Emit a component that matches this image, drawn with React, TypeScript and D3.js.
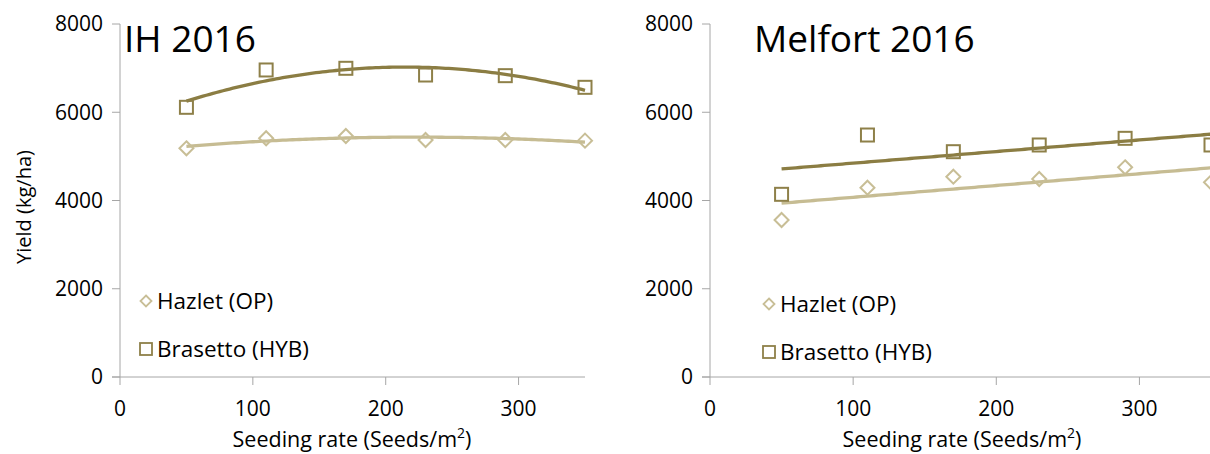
import React from 'react';
import * as d3 from 'd3';

// seeding rates (seeds/m2)
const rates = [50, 110, 170, 230, 290, 350];

// yields (kg/ha)
const ihHazlet = [5183, 5410, 5462, 5371, 5371, 5356];
const ihBrasetto = [6112, 6958, 6996, 6844, 6829, 6565];
const melHazlet = [3558, 4290, 4540, 4487, 4752, 4412];
const melBrasetto = [4140, 5484, 5106, 5258, 5409, 5258];

const yTicks = [0, 2000, 4000, 6000, 8000];
const xTicks = [0, 100, 200, 300];

const HAZ = '#C8BE96';
const BRA = '#8E8049';
const HAZ_LINE = '#C6BC93';
const BRA_LINE = '#8B7D43';
const AXIS = '#A6A6A6';
const FONT = '"Open Sans", Lato, sans-serif';

// least squares polynomial fit (degree 1 or 2), like excel's trendline
function polyFit(xs: number[], ys: number[], deg: number) {
  const n = deg + 1;
  const A: number[][] = [];
  for (let i = 0; i < n; i++) {
    A.push([]);
    for (let j = 0; j < n; j++) A[i].push(d3.sum(xs, x => Math.pow(x, i + j)));
    A[i].push(d3.sum(xs, (x, k) => Math.pow(x, i) * ys[k]));
  }
  for (let c = 0; c < n; c++) {
    for (let r = c + 1; r < n; r++) {
      const f = A[r][c] / A[c][c];
      for (let k = c; k <= n; k++) A[r][k] -= f * A[c][k];
    }
  }
  const coef = new Array(n).fill(0);
  for (let r = n - 1; r >= 0; r--) {
    let s = A[r][n];
    for (let k = r + 1; k < n; k++) s -= A[r][k] * coef[k];
    coef[r] = s / A[r][r];
  }
  return (x: number) => coef.reduce((acc, c, i) => acc + c * Math.pow(x, i), 0);
}

const diamond = (r: number) => `M0,${-r}L${r},0L0,${r}L${-r},0Z`;

type PanelProps = {
  title: string;
  titleX: number;
  x0: number;
  x1: number;
  hazlet: number[];
  brasetto: number[];
  deg: number;
  legendX: number;
  legendY: [number, number];
  xTitleX: number;
  showYTitle: boolean;
};

function Panel(p: PanelProps) {
  const x = d3.scaleLinear().domain([0, 350]).range([p.x0, p.x1]);
  const y = d3.scaleLinear().domain([0, 8000]).range([377, 24]);

  const hFit = polyFit(rates, p.hazlet, p.deg);
  const bFit = polyFit(rates, p.brasetto, p.deg);
  const fitXs = d3.range(50, 350.01, 2.5);
  const line = (f: (v: number) => number) =>
    d3.line<number>().x(v => x(v)).y(v => y(f(v)))(fitXs) || '';

  return (
    <g fontFamily={FONT}>
      {/* axes */}
      <line x1={p.x0} x2={p.x0} y1={y(8000)} y2={y(0)} stroke={AXIS} strokeWidth={1} />
      <line x1={p.x0 - 8} x2={p.x1} y1={y(0)} y2={y(0)} stroke={AXIS} strokeWidth={1} />
      {yTicks.map(t => (
        <g key={'y' + t}>
          <line x1={p.x0 - 8} x2={p.x0} y1={y(t)} y2={y(t)} stroke={AXIS} />
          <text x={p.x0 - 17} y={y(t)} dy="0.35em" textAnchor="end" fontSize={21} fill="#000">
            {t}
          </text>
        </g>
      ))}
      {xTicks.map(t => (
        <g key={'x' + t}>
          <line x1={x(t)} x2={x(t)} y1={y(0)} y2={y(0) + 8} stroke={AXIS} />
          <text x={x(t)} y={416} textAnchor="middle" fontSize={21} fill="#000">
            {t}
          </text>
        </g>
      ))}
      <text x={p.xTitleX} y={447} textAnchor="middle" fontSize={21.5} fill="#000">
        Seeding rate (Seeds/m<tspan dy={-9} fontSize={14}>2</tspan>
        <tspan dy={9}>)</tspan>
      </text>
      {p.showYTitle && (
        <text transform="translate(31,207) rotate(-90)" textAnchor="middle" fontSize={20} fill="#000">
          Yield (kg/ha)
        </text>
      )}
      <text x={p.titleX} y={52} fontSize={37} fill="#000">
        {p.title}
      </text>

      {/* trend lines */}
      <path d={line(bFit)} fill="none" stroke={BRA_LINE} strokeWidth={3.3} />
      <path d={line(hFit)} fill="none" stroke={HAZ_LINE} strokeWidth={3.3} />

      {/* markers */}
      {rates.map((r, i) => (
        <path
          key={'h' + r}
          d={diamond(7)}
          transform={`translate(${x(r)},${y(p.hazlet[i])})`}
          fill="none"
          stroke={HAZ}
          strokeWidth={2}
        />
      ))}
      {rates.map((r, i) => (
        <rect
          key={'b' + r}
          x={x(r) - 6.5}
          y={y(p.brasetto[i]) - 6.5}
          width={13}
          height={13}
          fill="none"
          stroke={BRA}
          strokeWidth={2}
        />
      ))}

      {/* legend */}
      <path d={diamond(5.5)} transform={`translate(${p.legendX},${p.legendY[0]})`} fill="none" stroke={HAZ} strokeWidth={1.8} />
      <text x={p.legendX + 11} y={p.legendY[0]} dy="0.35em" fontSize={22.5} fill="#000">
        Hazlet (OP)
      </text>
      <rect x={p.legendX - 6} y={p.legendY[1] - 6} width={12} height={12} fill="none" stroke={BRA} strokeWidth={1.8} />
      <text x={p.legendX + 11} y={p.legendY[1]} dy="0.35em" fontSize={22.5} fill="#000">
        Brasetto (HYB)
      </text>
    </g>
  );
}

export default function App() {
  return (
    <svg
      width={1210}
      height={454}
      style={{ position: 'absolute', left: 0, top: 0, background: '#fff' }}
    >
      <rect width={1210} height={454} fill="#fff" />
      <Panel
        title="IH 2016"
        titleX={124}
        x0={120}
        x1={585}
        hazlet={ihHazlet}
        brasetto={ihBrasetto}
        deg={2}
        legendX={146}
        legendY={[301, 349]}
        xTitleX={352}
        showYTitle={true}
      />
      <Panel
        title="Melfort 2016"
        titleX={754}
        x0={710}
        x1={1211}
        hazlet={melHazlet}
        brasetto={melBrasetto}
        deg={1}
        legendX={769}
        legendY={[304, 352]}
        xTitleX={962}
        showYTitle={false}
      />
    </svg>
  );
}
